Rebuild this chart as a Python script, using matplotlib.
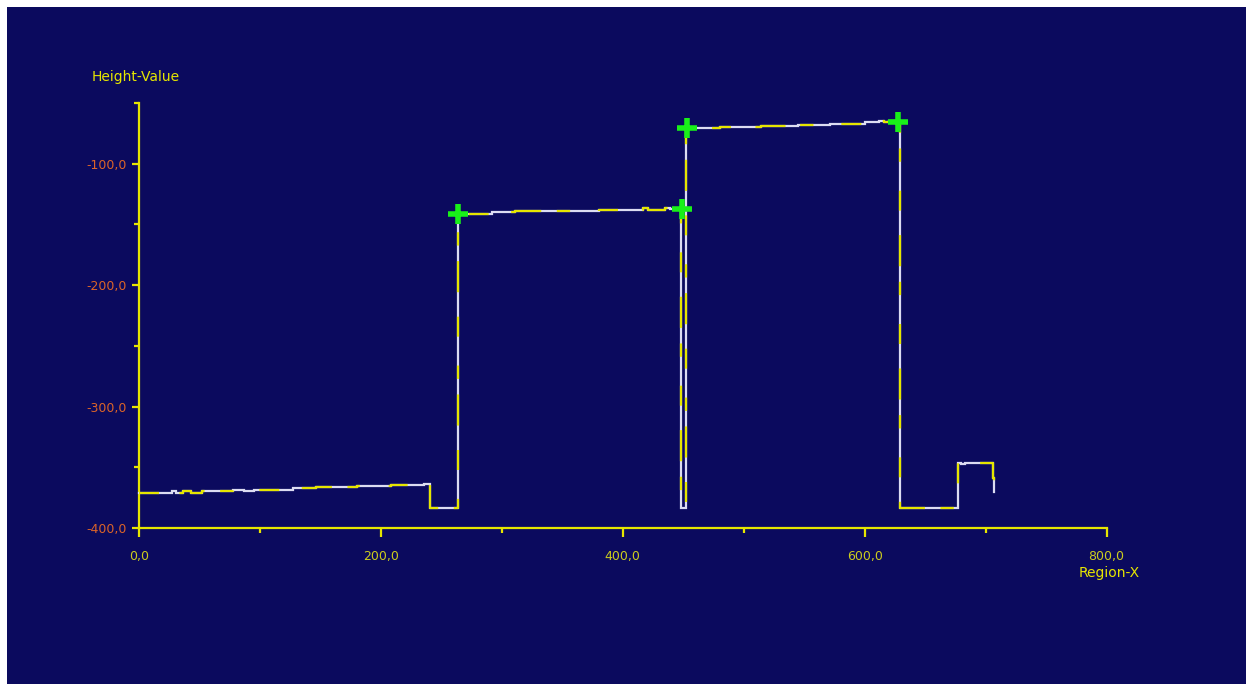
import matplotlib
matplotlib.use("Agg")
import matplotlib.pyplot as plt
from matplotlib.patches import Rectangle
from matplotlib.ticker import MultipleLocator, FuncFormatter

# ---- data ----
profile_x = [0, 27, 31, 36, 43, 52, 78, 87, 95, 127, 146, 180, 208, 236, 240.5,
             263.5, 292, 311, 340, 380, 417, 421, 435, 439, 448.5,
             452.5, 480, 514, 545, 571, 600, 612, 616, 620, 629.5,
             677.5, 680, 683, 706, 707]
profile_y = [-370.8, -369.8, -370.8, -369.8, -370.8, -369.8, -368.6, -369.6, -368.6,
             -367.2, -366.5, -365.3, -364.5, -363.6, -383.5,
             -141.3, -140.0, -139.3, -138.6, -138.2, -136.8, -138.0, -136.8, -137.6, -383.5,
             -70.5, -69.6, -68.6, -67.8, -66.9, -66.0, -64.8, -65.8, -64.5, -383.5,
             -346.3, -347.3, -346.3, -358.7, -370.2]
marker_x = [263.7, 448.9, 453.3, 627.7]
marker_y = [-141.3, -137.4, -70.2, -65.3]
x_label = "Region-X"
y_label = "Height-Value"

NAVY = "#0b0a5e"
YELLOW = "#e6e600"
WHITE = "#dcdcf2"
GREEN = "#19f019"
YTICK_C = "#dc6428"
XTICK_C = "#cccc1e"

fig = plt.figure(figsize=(12.53, 6.90), dpi=100)
fig.patch.set_facecolor("white")
fig.add_artist(Rectangle((7 / 1253, 6 / 690), (1246 - 7) / 1253, (683 - 6) / 690,
                         transform=fig.transFigure, facecolor=NAVY, edgecolor="none", zorder=0))

ax = fig.add_axes([139 / 1253, (690 - 528) / 690, (1106.5 - 139) / 1253, (528 - 103) / 690])
ax.set_facecolor("none")
ax.set_xlim(0, 800)
ax.set_ylim(-400, -50)

for s in ["top", "right"]:
    ax.spines[s].set_visible(False)
for s in ["left", "bottom"]:
    ax.spines[s].set_color(YELLOW)
    ax.spines[s].set_linewidth(1.6)

ax.xaxis.set_major_locator(MultipleLocator(200))
ax.xaxis.set_minor_locator(MultipleLocator(100))
ax.yaxis.set_major_locator(MultipleLocator(100))
ax.yaxis.set_minor_locator(MultipleLocator(50))
fmt = FuncFormatter(lambda v, p: f"{v:.1f}".replace(".", ","))
ax.xaxis.set_major_formatter(fmt)
ax.yaxis.set_major_formatter(fmt)

ax.tick_params(axis="x", which="major", direction="out", length=6.5, width=1.6,
               color=YELLOW, labelcolor=XTICK_C, labelsize=9, pad=9)
ax.tick_params(axis="x", which="minor", direction="out", length=3.5, width=1.6, color=YELLOW)
ax.tick_params(axis="y", which="major", direction="out", length=5, width=1.6,
               color=YELLOW, labelcolor=YTICK_C, labelsize=9, pad=4)
ax.tick_params(axis="y", which="minor", direction="out", length=3.5, width=1.6, color=YELLOW)

# traces
ax.plot(profile_x, profile_y, drawstyle="steps-post", color=WHITE, lw=1.6,
        solid_joinstyle="miter", zorder=3, clip_on=False)
ax.plot(profile_x, profile_y, drawstyle="steps-post", color=YELLOW, lw=1.6,
        linestyle=(0, (9, 11, 14, 7, 6, 13)), zorder=4, clip_on=False)
ax.plot(marker_x, marker_y, linestyle="none", marker="+", markersize=15,
        markeredgewidth=4, color=GREEN, zorder=5, clip_on=False)

fig.text(92 / 1253, 1 - 77 / 690, y_label, color=YELLOW, fontsize=10,
         ha="left", va="center")
fig.text(1140 / 1253, 1 - 573 / 690, x_label, color=YELLOW, fontsize=10,
         ha="right", va="center")

fig.savefig("out.png", dpi=100, facecolor=fig.get_facecolor())
